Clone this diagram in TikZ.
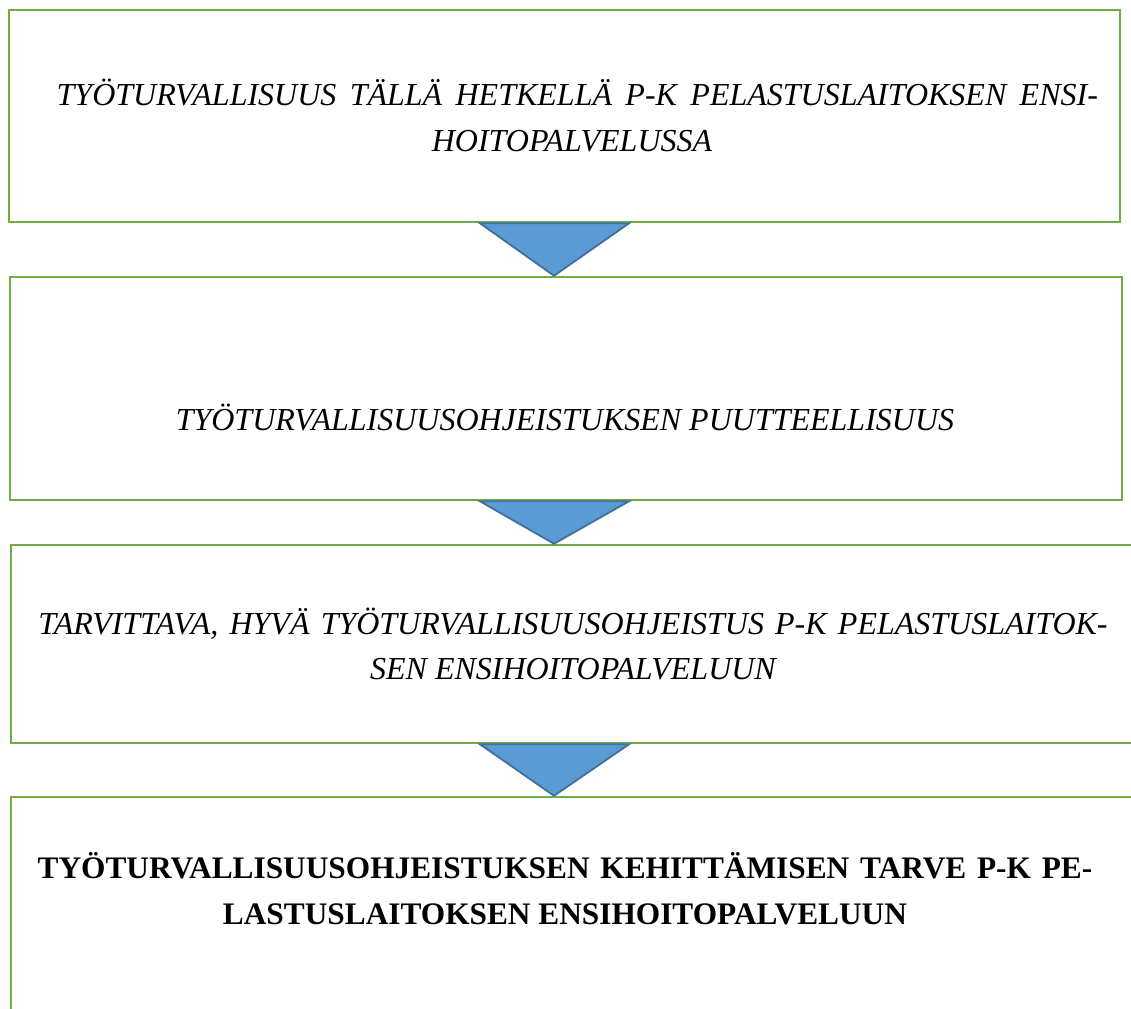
\documentclass[tikz,border=0pt]{standalone}
\usepackage{fontspec}
\setmainfont{Liberation Serif}
\usepackage{tikz}
\usepackage{xcolor}
\usetikzlibrary{calc, positioning}

\definecolor{boxgreen}{HTML}{70AD47}
\definecolor{trifill}{HTML}{5B9BD5}
\definecolor{triline}{HTML}{41719C}

\tikzset{
  stagebox/.style={draw=boxgreen, line width=1.9pt, inner sep=0pt},
  stagetext/.style={align=center, inner sep=0pt, font=\fontsize{24}{34}\selectfont\itshape},
  arrowtri/.style={fill=trifill, draw=triline, line width=1.4pt, line join=miter}
}

\begin{document}
\begin{tikzpicture}[x=0.75pt, y=-0.75pt]
                                \useasboundingbox (0, 0) rectangle (1131, 1009);
                                \clip (0, 0) rectangle (1131, 1009);

                                \node[stagebox, minimum width=833.25pt, minimum height=159pt] (b1) at (564.5, 116) {};
                                \node[stagebox, minimum width=834pt, minimum height=167.25pt] (b2) at (566, 388.5) {};
                                \node[stagebox, minimum width=846.75pt, minimum height=148.5pt] (b3) at (575.5, 644) {};
                                \node[stagebox, minimum width=846.75pt, minimum height=174.75pt] (b4) at (575.5, 913.5) {};

                                \node[stagetext] (t1) at (572, 115.5)
                                {\makebox[789pt][r]{\makebox[781pt][s]{TYÖTURVALLISUUS TÄLLÄ HETKELLÄ P-K PELASTUSLAITOKSEN ENSI-}}\\HOITOPALVELUSSA};
                                \node[stagetext] (t2) at (565, 417) {TYÖTURVALLISUUSOHJEISTUKSEN PUUTTEELLISUUS};
                                \node[stagetext] (t3) at (573, 644)
                                {\makebox[802pt][s]{TARVITTAVA, HYVÄ TYÖTURVALLISUUSOHJEISTUS P-K PELASTUSLAITOK-}\\SEN ENSIHOITOPALVELUUN};
                                \node[stagetext, font=\fontsize{23.5}{34.5}\selectfont\bfseries] (t4) at (565, 889)
                                {\makebox[791pt][s]{TYÖTURVALLISUUSOHJEISTUKSEN KEHITTÄMISEN TARVE P-K PE-}\\LASTUSLAITOKSEN ENSIHOITOPALVELUUN};

                                \coordinate (mid) at (554, 0);
                                \foreach \up/\down in {b1/b2, b2/b3, b3/b4}
                                \draw[arrowtri] ($(\up.south -| mid)+(-74, 0)$) -- ($(\up.south -| mid)+(75, 0)$)
                                -- (\down.north -| mid) -- cycle;
                            \end{tikzpicture}
\end{document}
